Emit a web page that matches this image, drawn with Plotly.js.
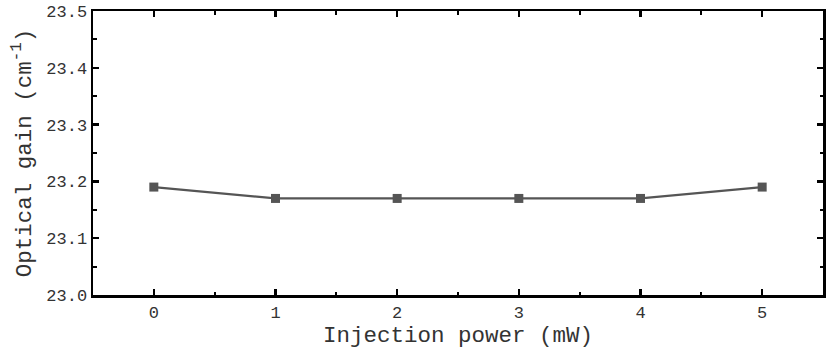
<!DOCTYPE html>
<html><head><meta charset="utf-8">
<script src="https://cdn.plot.ly/plotly-3.0.1.min.js"></script>
<style>html,body{margin:0;padding:0;background:#fff;}#c{width:832px;height:353px;}</style>
</head><body><div id="c"></div>
<script>
const power = [0, 1, 2, 3, 4, 5];
const gain = [23.19, 23.17, 23.17, 23.17, 23.17, 23.19];
const yTicks = [23.0, 23.1, 23.2, 23.3, 23.4, 23.5];
const yTickText = ['23.0', '23.1', '23.2', '23.3', '23.4', '23.5'];
const xTicks = [0, 1, 2, 3, 4, 5];

const F = 'Liberation Mono, DejaVu Sans Mono, monospace';
const axCommon = {
  showline: true, linecolor: '#000', linewidth: 2.5, mirror: 'ticks',
  ticks: 'inside', ticklen: 6, tickwidth: 2.5, tickcolor: '#000',
  showgrid: false, zeroline: false,
  tickfont: {family: F, size: 17, color: '#333'},
  minor: {ticks: 'inside', ticklen: 3.5, tickwidth: 2, tickcolor: '#000', showgrid: false}
};
const trace = {
  x: power, y: gain, type: 'scatter', mode: 'lines+markers',
  line: {color: '#555', width: 2.2},
  marker: {symbol: 'square', size: 9, color: '#555'}
};
const layout = {
  width: 832, height: 353,
  margin: {l: 93, r: 9, t: 11, b: 58},
  paper_bgcolor: '#fff', plot_bgcolor: '#fff',
  showlegend: false,
  xaxis: Object.assign({}, axCommon, {
    range: [-0.5, 5.5], tickvals: xTicks, ticktext: xTicks.map(String),
    minor: Object.assign({}, axCommon.minor, {dtick: 0.5, tick0: 0.5}),
    title: {text: 'Injection power (mW)', font: {family: F, size: 22.5, color: '#333'}, standoff: 4}
  }),
  yaxis: Object.assign({}, axCommon, {
    range: [23.0, 23.5], tickvals: yTicks, ticktext: yTickText,
    minor: Object.assign({}, axCommon.minor, {dtick: 0.05, tick0: 23.05}),
    title: {text: 'Optical gain (cm<sup>-1</sup>)', font: {family: F, size: 22.5, color: '#333'}, standoff: 9}
  })
};
Plotly.newPlot('c', [trace], layout, {displayModeBar: false, staticPlot: true});
</script></body></html>
